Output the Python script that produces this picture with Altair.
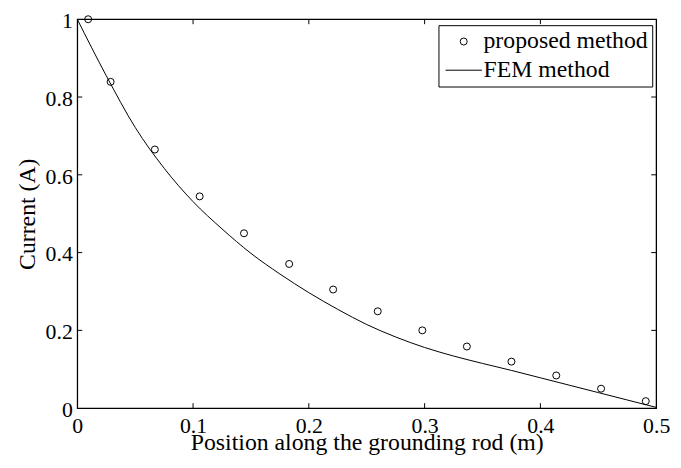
import altair as alt
import pandas as pd

# proposed method (open circles)
prop_x = [0.0094, 0.0288, 0.067, 0.1057, 0.144, 0.183, 0.221, 0.2595, 0.298, 0.3365, 0.375, 0.4137, 0.4524, 0.491]
prop_y = [1.0, 0.839, 0.665, 0.5445, 0.4496, 0.3707, 0.305, 0.249, 0.200, 0.1585, 0.1196, 0.084, 0.050, 0.018]

# FEM method (solid line)
fem_x = [0.0, 0.025, 0.05, 0.075, 0.1, 0.125, 0.15, 0.175, 0.2, 0.225, 0.25,
         0.275, 0.3, 0.325, 0.35, 0.375, 0.4, 0.425, 0.45, 0.475, 0.5]
fem_y = [1.0, 0.855, 0.722, 0.617, 0.531, 0.461, 0.398, 0.345, 0.297, 0.254, 0.215,
         0.183, 0.156, 0.134, 0.115, 0.097, 0.078, 0.059, 0.040, 0.021, 0.002]

x_ticks = [0.1, 0.2, 0.3, 0.4]
y_ticks = [0.2, 0.4, 0.6, 0.8]
x_labels = [0, 0.1, 0.2, 0.3, 0.4, 0.5]
y_labels = [0, 0.2, 0.4, 0.6, 0.8, 1]
series_names = ["proposed method", "FEM method"]

W, H = 585, 393
FONT = "Liberation Serif"

prop_df = pd.DataFrame({"x": prop_x, "y": prop_y, "series": series_names[0]})
fem_df = pd.DataFrame({"x": fem_x, "y": fem_y, "series": series_names[1]})
xt_df = pd.DataFrame({"v": x_ticks})
yt_df = pd.DataFrame({"v": y_ticks})

xscale = alt.Scale(domain=[0, 0.5], nice=False, zero=False)
yscale = alt.Scale(domain=[0, 1], nice=False, zero=False)

xaxis = alt.Axis(values=x_labels, format="~g", labelPadding=8,
                 title="Position along the grounding rod (m)", titleBaseline="alphabetic", titleY=42)
yaxis = alt.Axis(values=y_labels, format="~g", labelPadding=5, labelOffset=1.5,
                 title="Current (A)", titleBaseline="alphabetic", titleX=-43)

legend = alt.Legend(title=None, orient="none", legendX=365, legendY=6,
                    fillColor="white", strokeColor="black", padding=4.5,
                    labelFont=FONT, labelFontSize=24, labelColor="black", labelLimit=400,
                    symbolOffset=9, labelOffset=8, rowPadding=5,
                    symbolStrokeWidth=1, symbolStrokeColor="black",
                    symbolFillColor="transparent", symbolSize=50)

line = alt.Chart(fem_df).mark_line(color="black", strokeWidth=1, interpolate="monotone").encode(
    x=alt.X("x:Q", scale=xscale, axis=xaxis),
    y=alt.Y("y:Q", scale=yscale, axis=yaxis),
)

points = alt.Chart(prop_df).mark_point(filled=False, strokeWidth=1, opacity=1, size=50, clip=False).encode(
    x=alt.X("x:Q", scale=xscale, axis=xaxis),
    y=alt.Y("y:Q", scale=yscale, axis=yaxis),
    color=alt.value("black"),
    shape=alt.Shape("series:N",
                    scale=alt.Scale(domain=series_names, range=["circle", "M-5.2,0H5.2"]),
                    legend=legend),
)

tb = alt.Chart(xt_df).mark_rule(color="black", strokeWidth=1).encode(
    x=alt.X("v:Q", scale=xscale), y=alt.value(H), y2=alt.value(H - 5))
tt = alt.Chart(xt_df).mark_rule(color="black", strokeWidth=1).encode(
    x=alt.X("v:Q", scale=xscale), y=alt.value(0), y2=alt.value(5))
tl = alt.Chart(yt_df).mark_rule(color="black", strokeWidth=1).encode(
    y=alt.Y("v:Q", scale=yscale), x=alt.value(0), x2=alt.value(5))
tr = alt.Chart(yt_df).mark_rule(color="black", strokeWidth=1).encode(
    y=alt.Y("v:Q", scale=yscale), x=alt.value(W), x2=alt.value(W - 5))

chart = alt.layer(line, tb, tt, tl, tr, points).properties(
    width=W, height=H,
    autosize=alt.AutoSizeParams(type="none"),
    padding={"left": 70, "top": 9, "right": 17, "bottom": 46},
    background="white",
).configure_view(
    stroke="black", strokeWidth=1.3
).configure_axis(
    grid=False, domain=False, ticks=False, tickSize=0,
    labelFlush=False, labelOverlap=False,
    labelFont=FONT, labelFontSize=22, labelColor="black",
    titleFont=FONT, titleFontSize=24, titleFontWeight="normal", titleColor="black",
)

chart.save("out.html", embed_options={"renderer": "svg", "actions": False})
